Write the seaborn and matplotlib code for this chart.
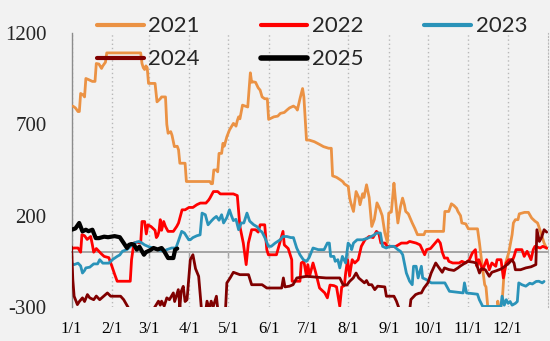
import matplotlib
matplotlib.use("Agg")
import matplotlib.pyplot as plt
from matplotlib.lines import Line2D
import seaborn as sns
import pandas as pd

# ---------------- data (day of year, value) ----------------
day_2021 = [1, 3, 5, 6, 7, 9, 10, 11, 13, 16, 18, 19, 21, 23, 24, 26, 27, 53, 54, 55, 56, 57, 58, 59, 64, 65.5,
            68, 69, 72, 73, 74, 76, 77, 78.8, 81, 82, 83, 87, 88, 106, 107, 108, 109, 111, 112, 113, 115, 116,
            117, 119, 121, 124, 125, 126, 127, 128, 129, 131, 133, 135, 137, 138, 139, 141, 143, 144.5, 146,
            148, 150, 151, 155, 158, 160, 163, 165, 167, 170, 172, 173, 175, 177, 178, 180, 182, 186, 190, 193,
            197, 199, 200, 203, 206, 208, 209, 212, 213, 214, 216, 218, 220, 221, 223, 224, 226, 228, 230, 232,
            234, 236, 238, 240, 242, 243, 245, 246, 247, 248, 250, 252, 253.6, 255, 256, 258, 261, 263, 265,
            270, 271, 285, 286, 289, 291, 293, 295, 296, 298, 299, 302, 304, 311, 312.5, 314, 316.5, 317.5,
            319.5, 326, 326.5, 328, 330, 331, 332.5, 335, 337.5, 338.5, 340, 342, 343, 347, 350, 352.5, 355,
            357, 358, 360, 362, 364]
val_2021 = [800, 790, 770, 770, 869, 860, 850, 951, 945, 935, 935, 1033, 1030, 1006, 1020, 1040, 1091, 1091,
            1033, 1010, 1000, 1020, 1010, 924, 924, 823, 840, 850, 850, 700, 651, 660, 640, 578, 580, 560, 487,
            487, 387, 387, 375, 375, 450, 450, 440, 541, 541, 596, 580, 632, 669, 705, 700, 690, 720, 741, 730,
            805, 800, 795, 982, 930, 933, 930, 900, 887, 850, 840, 840, 727, 741, 745, 760, 765, 778, 790, 800,
            790, 778, 840, 896, 850, 614, 614, 605, 590, 578, 569, 569, 418, 410, 396, 385, 374, 360, 300, 269,
            223, 332, 300, 260, 320, 300, 369, 300, 141, 180, 270, 240, 200, 106, 52, 214, 220, 300, 378, 300,
            160, 250, 296, 260, 223, 210, 160, 130, 96, 96, 114, 114, 223, 223, 265, 255, 240, 223, 200, 160,
            155, 128, 128, 50, -40, -178, -190, -350, -350, -268, -320, -260, -150, -60, 0, 96, 160, 178, 178,
            210, 218, 218, 187, 170, 160, 140, 96, 50, 20]

day_2022 = [0, 2, 5, 7, 8, 10, 12, 14.7, 16, 17, 19, 21.6, 23, 25, 28.6, 31, 33, 35, 45, 46, 47.8, 50, 53, 54,
            56, 57.3, 58.5, 61, 64, 65, 66, 67, 68, 69, 70.6, 72, 74, 78, 80.6, 82, 84.7, 87, 90, 93, 96, 98.7,
            103, 105, 106, 108.7, 112, 114, 124, 127, 129, 131.6, 133.8, 135.5, 138, 141, 143, 144.5, 148,
            149.6, 150.8, 157, 159.5, 162, 163, 166, 168.7, 169, 175, 176, 178, 180, 181, 182.5, 185, 187, 190,
            194, 196, 198, 201, 203, 205.5, 207, 209, 210, 211.5, 213, 215, 217, 219.6, 222, 224.8, 228, 231,
            233.6, 235.5, 237, 240, 242, 248.5, 252.7, 257, 259, 264, 267, 270.5, 272, 275, 280.7, 282.5, 284,
            285.7, 288, 289, 292, 297, 299, 302, 304.8, 307, 309.4, 310.5, 312, 315, 318, 320, 322, 325, 326,
            329, 330.8, 333, 335, 338, 339, 340.5, 345, 346.8, 349, 352, 353.7, 355, 359, 361, 364]
val_2022 = [20, 23, 23, 0, 96, 90, 70, 86, 40, 0, 20, 0, -10, -23, -30, -78, -120, -159, -159, -41, 50, 55, 50,
            168, 168, 100, 150, 140, 120, 80, 90, 114, 178, 120, 168, 140, 114, 114, 141, 160, 232, 232, 245,
            245, 260, 269, 269, 285, 296, 332, 332, 319, 319, 310, 141, 50, -68, 50, 123, 123, 110, 150, 150,
            14, -14, -14, 50, 114, 40, 20, -41, -159, -159, -59, -50, -132, -68, -128, -59, -110, -196, -223,
            -250, -180, -183, -190, -296, -190, -183, -114, -41, -130, -41, -59, -41, 32, 68, 86, 80, 114, 100,
            50, 50, 32, 32, 50, 50, 59, 50, 40, -14, 14, 20, 68, 50, 0, -32, -32, -50, -59, -59, -50, -59, -41,
            -5, 14, -77, -41, -96, -41, -96, -59, -77, -41, -41, -141, -59, -41, -41, -23, 14, 14, -23, 5, -41,
            14, 32, 23, 32, 23]

day_2023 = [0, 2, 5, 7, 8.4, 10, 11, 14, 17, 20, 21.6, 24, 28.6, 31.3, 35, 37, 39, 42.4, 45, 47.8, 51.6, 54, 56,
            58.5, 62.3, 66, 70.7, 73, 76.7, 80, 81.8, 84.4, 86.5, 89.8, 91, 93, 96, 98.5, 100, 102.5, 104.6,
            107, 109, 111, 113, 115, 116.5, 119, 121, 122.5, 124, 126, 128, 130, 132, 134.4, 136.5, 139.6, 142,
            144.5, 146, 148.3, 150.8, 153, 156, 159.8, 162, 165, 168, 170, 172.5, 175, 177.6, 180, 182, 185,
            189, 193.5, 196, 197.5, 198.5, 201, 202, 204, 205.5, 207.5, 210, 211.9, 214, 214.6, 216, 218.8,
            223, 227, 229.6, 232, 233.6, 236.6, 238.3, 241, 244, 247, 250, 252, 253.7, 256.5, 259, 261, 262,
            264, 265.5, 268, 269, 271.8, 275.6, 286, 289.5, 300, 301, 302.6, 311, 312.4, 315, 329, 329.8, 331.5,
            333, 334.5, 336, 337.5, 340, 341.5, 342.6, 345, 348, 351, 353, 356, 358, 360.6, 362]
val_2023 = [-60, -68, -60, -75, -114, -100, -86, -82, -64, -64, -41, -60, -60, -41, -23, -15, 5, 14, 30, 50, 59,
            50, 40, 32, 23, 14, 5, 14, 23, 23, 59, 114, 105, 68, 68, 80, 90, 95, 214, 205, 150, 170, 185, 196,
            175, 205, 160, 190, 232, 200, 173, 180, 123, 160, 160, 214, 170, 150, 140, 118, 110, 77, 32, 32, 50,
            68, 86, 86, 80, 80, 23, -14, -41, -50, -30, 23, 14, 14, 50, 50, -23, -23, -50, -41, -86, -23, -59,
            50, 32, 14, 50, 68, 68, 77, 86, 95, 105, 105, 32, 23, 32, 32, 14, 5, -14, -114, -159, -178, -77,
            -77, -141, -77, -141, -150, -168, -168, -214, -223, -168, -223, -230, -260, -297, -297, -241, -290,
            -260, -280, -270, -290, -280, -270, -168, -178, -186, -170, -174, -160, -159, -168, -160]

day_2024 = [0, 1, 2, 4.5, 6, 8.4, 10, 12.2, 14, 17, 19, 21.6, 24, 27.5, 30, 37.6, 40, 44, 63, 66.6, 68, 69, 71,
            73, 75, 78, 79, 81.8, 83, 84, 85.6, 87, 88.5, 91, 93, 95, 97.4, 98.7, 99.5, 103, 103.8, 105.5, 107,
            108.5, 111, 112, 118, 119, 121.5, 124, 129, 135.6, 138, 146, 149.6, 161, 162.3, 163.5, 167, 169.7,
            172.6, 180, 195, 205.5, 208, 211, 213, 215.8, 218, 220, 224.4, 226, 227.7, 230, 232.3, 234.5, 240,
            241.2, 247, 248.9, 251.5, 259, 260, 263.6, 266, 268, 270, 273, 275.5, 279, 281, 284, 285.7, 289,
            293, 296, 298, 303.5, 308, 310, 312.5, 314, 317, 320, 322, 326, 329, 332, 335, 337.4, 339, 340, 344,
            348, 352, 355.7, 356.5, 358.4, 360, 362, 364]
val_2024 = [30, -150, -241, -287, -270, -250, -270, -232, -250, -260, -240, -260, -245, -223, -241, -241, -260,
            -310, -310, -268, -290, -268, -295, -250, -260, -223, -270, -205, -300, -215, -187, -270, -260, -41,
            -14, -90, -132, -241, -310, -310, -268, -310, -268, -300, -241, -310, -310, -168, -141, -110, -123,
            -123, -178, -178, -196, -196, -141, -190, -186, -178, -141, -132, -141, -141, -178, -180, -160, -141,
            -114, -141, -168, -155, -178, -178, -205, -186, -190, -241, -241, -268, -320, -320, -259, -232, -225,
            -223, -196, -168, -114, -59, -80, -110, -86, -95, -100, -86, -75, -50, -55, -60, -114, -90, -96,
            -132, -110, -100, -92, -77, -60, -41, -60, -96, -96, -86, -80, -68, 123, 59, 80, 123, 110]

day_2025 = [0, 3, 5.9, 7, 8.4, 11, 13, 16, 18.6, 21, 25, 28, 33, 37, 40, 42.5, 44, 46, 48, 50, 52, 55.5, 57, 60,
            62.8, 66, 69, 71, 74, 78, 79.4, 81]
val_2025 = [123, 130, 160, 140, 114, 123, 115, 123, 77, 77, 85, 82, 88, 82, 50, 23, 40, 45, 40, 14, 30, -14, 0,
            10, 23, 15, 23, 5, -32, -32, 14, 20]

years = ["2021", "2022", "2023", "2024", "2025"]
colors = ["#EB9244", "#FF0000", "#2A93B9", "#800000", "#000000"]
widths = [2.0, 2.0, 2.0, 2.0, 3.0]

month_days = [0, 31, 59, 90, 120, 151, 181, 212, 243, 273, 304, 334]
month_labels = ["1/1", "2/1", "3/1", "4/1", "5/1", "6/1", "7/1", "8/1", "9/1", "10/1", "11/1", "12/1"]
y_ticks = [-300, 200, 700, 1200]

series = {"2021": (day_2021, val_2021), "2022": (day_2022, val_2022), "2023": (day_2023, val_2023),
          "2024": (day_2024, val_2024), "2025": (day_2025, val_2025)}
frames = []
for y, (d, v) in series.items():
    frames.append(pd.DataFrame({"day": d, "value": v, "year": y}))
df = pd.concat(frames, ignore_index=True)

# ---------------- style ----------------
bg = "#F2F2F2"
sns.set_style("white")
legend_font = "Lato"
serif = "Liberation Serif"

fig = plt.figure(figsize=(5.5, 3.41), dpi=100, facecolor=bg)
ax = fig.add_axes([71.5 / 550, 34 / 341, (548 - 71.5) / 550, (307 - 33) / 341])
ax.set_facecolor(bg)

# zero axis line with small tick marks
sec = ax.secondary_xaxis(300 / 1500)
sec.set_xticks(month_days)
sec.tick_params(axis="x", direction="out", length=4, width=1, color="#A0A0A0", labelbottom=False)
sec.spines["bottom"].set_color("#A0A0A0")
sec.spines["bottom"].set_linewidth(1.3)

for y, c, w in zip(years, colors, widths):
    sns.lineplot(data=df[df["year"] == y], x="day", y="value", color=c, linewidth=w,
                 estimator=None, sort=False, ax=ax, legend=False, zorder=3)

ax.set_xlim(0, 365)
ax.set_ylim(-300, 1200)
ax.set_xticks(month_days)
ax.set_xticklabels(month_labels, fontfamily=serif, fontsize=12)
ax.set_yticks(y_ticks)
ax.set_yticklabels([str(t) for t in y_ticks], fontfamily=serif, fontsize=15)
ax.tick_params(axis="x", length=0, pad=10, colors="black")
ax.tick_params(axis="y", direction="out", length=6, width=1, color="#8C8C8C", pad=12)
ax.set_xlabel("")
ax.set_ylabel("")

ax.xaxis.grid(True, linestyle=(0, (1, 2)), color="#B8B8B8", linewidth=1)
ax.yaxis.grid(False)
for s in ["top", "bottom"]:
    ax.spines[s].set_visible(False)
ax.spines["right"].set_visible(True)
ax.spines["right"].set_linestyle((0, (1, 2)))
ax.spines["right"].set_color("#B8B8B8")
ax.spines["left"].set_color("#8C8C8C")
ax.spines["left"].set_linewidth(1)

handles = [Line2D([], [], color=c, linewidth=w + 1) for c, w in zip(colors, widths)]
order = [0, 3, 1, 4, 2]
fig.legend([handles[i] for i in order], [years[i] for i in order], ncol=3, loc="upper left",
           bbox_to_anchor=(97 / 550, 1 - 16.5 / 341), frameon=False, borderpad=0, borderaxespad=0,
           handlelength=2.1, handletextpad=0.2, columnspacing=2.75, labelspacing=0.58,
           prop={"family": legend_font, "size": 16})

fig.savefig("out.png", dpi=100, facecolor=bg)
